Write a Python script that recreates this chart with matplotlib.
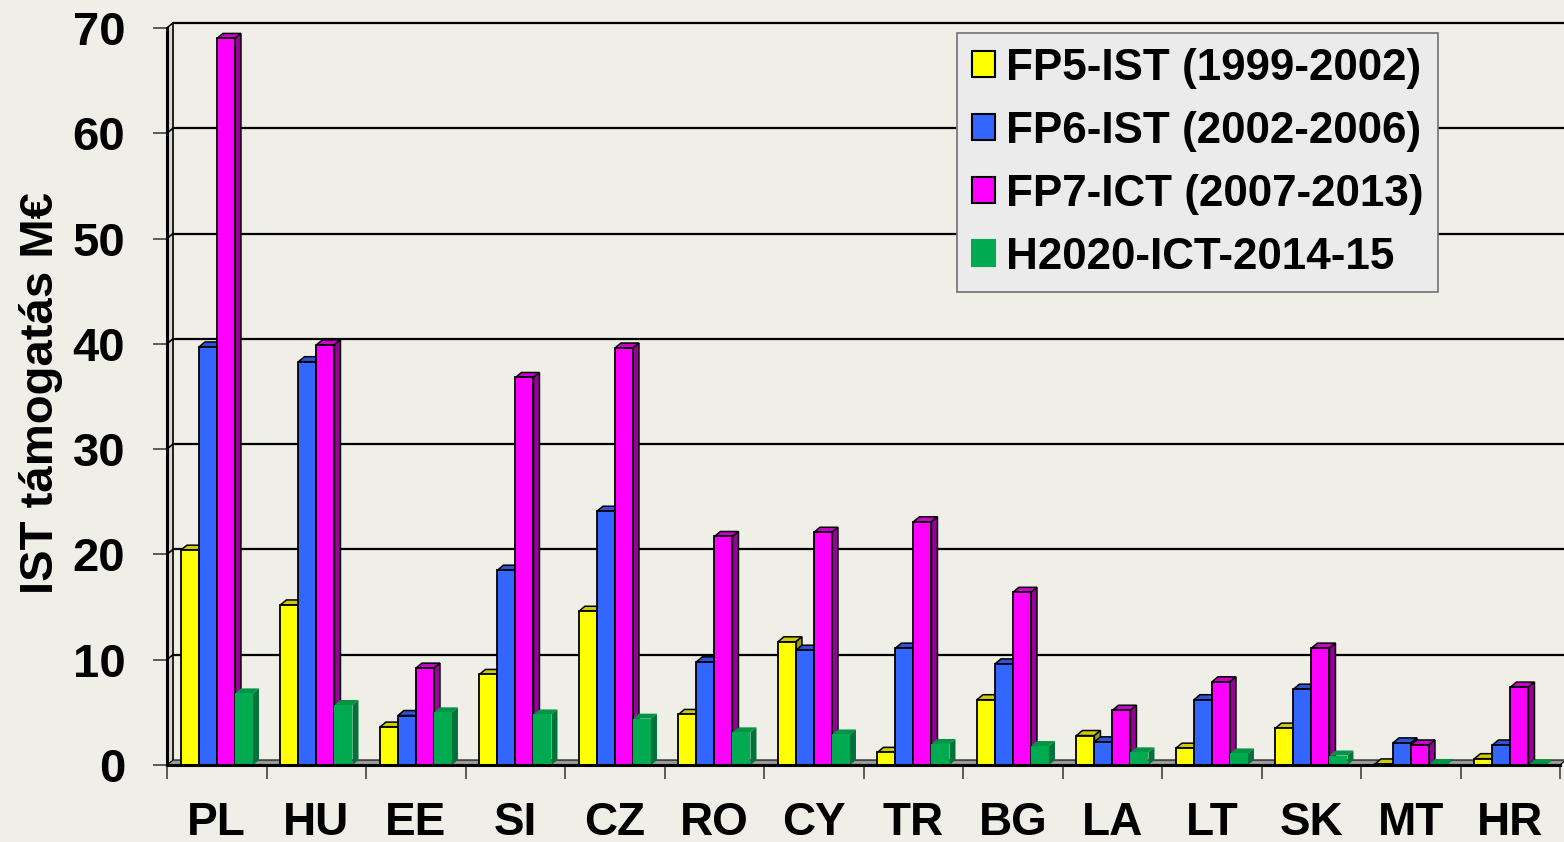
import matplotlib
matplotlib.use("Agg")
import matplotlib.pyplot as plt
from matplotlib.patches import Polygon, Rectangle
import numpy as np

# ---------------- data ----------------
countries = ["PL", "HU", "EE", "SI", "CZ", "RO", "CY", "TR", "BG", "LA", "LT", "SK", "MT", "HR"]
series_names = ["FP5-IST (1999-2002)", "FP6-IST (2002-2006)", "FP7-ICT (2007-2013)", "H2020-ICT-2014-15"]
fp5 = [20.4, 15.2, 3.6, 8.6, 14.6, 4.8, 11.7, 1.2, 6.2, 2.8, 1.6, 3.5, 0.1, 0.6]
fp6 = [39.7, 38.3, 4.7, 18.5, 24.1, 9.8, 10.9, 11.1, 9.6, 2.2, 6.2, 7.2, 2.1, 1.9]
fp7 = [69.0, 39.9, 9.2, 36.8, 39.6, 21.7, 22.1, 23.1, 16.4, 5.2, 7.9, 11.1, 1.9, 7.4]
h2020 = [6.8, 5.7, 5.0, 4.8, 4.4, 3.1, 2.9, 2.0, 1.8, 1.2, 1.1, 0.9, 0.1, 0.05]
yticks = [0, 10, 20, 30, 40, 50, 60, 70]
ylabel = "IST támogatás M€"

# ---------------- style ----------------
BG = "#EFEFE7"
front_cols = ["#FFFF00", "#3366FF", "#FF00FF", "#00AA50"]
top_cols = ["#CCCC00", "#2A55D6", "#CC00CC", "#009444"]
side_cols = ["#9E9E00", "#1F3FA6", "#990099", "#00733A"]
edge_cols = ["black", "black", "black", "none"]

plt.rcParams["font.family"] = ["Liberation Sans", "DejaVu Sans"]
plt.rcParams["font.weight"] = "bold"

W, H = 1564, 842
fig = plt.figure(figsize=(W / 100, H / 100), dpi=100, facecolor=BG)
L, R, B, T = 167, 1564, 765, 21
ax = fig.add_axes([L / W, (H - B) / H, (R - L) / W, (B - T) / H])
ax.set_facecolor(BG)
pxx = 99.5     # px per category
pxy = 10.53    # px per unit
ax.set_xlim(0, (R - L) / pxx)
ax.set_ylim(0, (B - T) / pxy)
for s in ax.spines.values():
    s.set_visible(False)

dx = 6 / pxx
dy = 5 / pxy
ncat = len(countries)
xmax = (R - L) / pxx

# back wall gridlines
for v in yticks[1:]:
    ax.plot([dx, xmax], [v + dy, v + dy], color="black", lw=1.6, zorder=1, solid_capstyle="butt")
    ax.plot([0, dx], [v, v + dy], color="black", lw=1.2, zorder=1)
# left wall
ax.plot([dx, dx], [dy, yticks[-1] + dy], color="black", lw=1.2, zorder=1)
ax.fill_betweenx([0, yticks[-1]], 0, dx, color="#D8D8D0", zorder=0.9)
ax.plot([0, 0], [0, yticks[-1]], color="black", lw=2.2, zorder=5, clip_on=False)
# floor
floor = Polygon([[0, 0], [ncat, 0], [ncat + dx, dy], [dx, dy]], closed=True,
                facecolor="#9A9A9A", edgecolor="black", lw=0.8, zorder=1.5)
ax.add_patch(floor)
ax.plot([0, ncat], [0, 0], color="black", lw=2.2, zorder=5, clip_on=False)

# bars
data = [fp5, fp6, fp7, h2020]
bw = 0.181
off = 0.14
x = np.arange(ncat)
for i, vals in enumerate(data):
    bars = ax.bar(x + off + i * bw, vals, width=bw, align="edge",
                  color=front_cols[i], edgecolor=edge_cols[i], lw=1.3, zorder=3 + i * 0.01)
    for r in bars:
        x0, w, h = r.get_x(), r.get_width(), r.get_height()
        top = Polygon([[x0, h], [x0 + w, h], [x0 + w + dx, h + dy], [x0 + dx, h + dy]],
                      closed=True, facecolor=top_cols[i], edgecolor=edge_cols[i], lw=1.1,
                      zorder=2.9 + i * 0.01)
        side = Polygon([[x0 + w, 0], [x0 + w + dx, dy], [x0 + w + dx, h + dy], [x0 + w, h]],
                       closed=True, facecolor=side_cols[i], edgecolor=edge_cols[i], lw=1.1,
                       zorder=2.9 + i * 0.01)
        ax.add_patch(top)
        ax.add_patch(side)

# ticks
ax.set_yticks(yticks)
ax.set_yticklabels([str(v) for v in yticks], fontsize=34, fontweight="bold")
ax.tick_params(axis="y", length=10, width=1.2, color="#404040", pad=20, direction="out")
ax.set_xticks(x + 0.5)
ax.set_xticklabels(countries, fontsize=33, fontweight="bold")
ax.set_xticks(np.arange(ncat + 1), minor=True)
ax.tick_params(axis="x", which="major", length=0, pad=26)
ax.tick_params(axis="x", which="minor", length=10, width=1.2, color="#404040", direction="out")
ax.set_ylabel(ylabel, fontsize=34, fontweight="bold", labelpad=7)

# legend
handles = [Rectangle((0, 0), 1, 1, facecolor=front_cols[i],
                     edgecolor=("black" if edge_cols[i] != "none" else front_cols[i]), lw=1.5)
           for i in range(4)]
leg = fig.legend(handles, series_names, loc="upper left",
                 bbox_to_anchor=(957 / W, 1 - 33 / H), fontsize=31.7,
                 handlelength=0.53, handleheight=0.53, handletextpad=0.25,
                 labelspacing=0.5, borderpad=0.33, borderaxespad=0,
                 frameon=True, fancybox=False, framealpha=1)
leg.get_frame().set_facecolor("#EBEBEB")
leg.get_frame().set_edgecolor("#707070")
leg.get_frame().set_linewidth(1.2)
for t in leg.get_texts():
    t.set_fontweight("bold")

fig.savefig("out.png", dpi=100, facecolor=BG)
